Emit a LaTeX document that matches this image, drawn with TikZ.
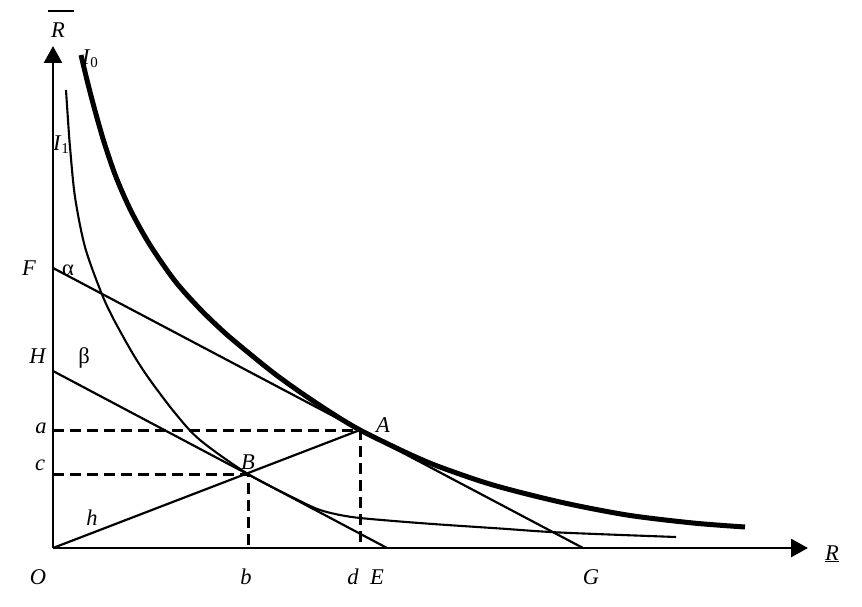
\documentclass[tikz,border=0pt]{standalone}
\usepackage{fontspec}
\setmainfont{Liberation Serif}
\usetikzlibrary{arrows.meta}
\begin{document}
\begin{tikzpicture}[x=1pt,y=-1pt,
  every node/.style={inner sep=0pt,outer sep=0pt},
  txt/.style={font=\fontsize{22.5}{26}\selectfont,anchor=base},
  axisline/.style={line width=2.8pt,-{Triangle[length=17pt,width=18pt]}},
  thinline/.style={line width=2.2pt},
  dashline/.style={line width=3pt,dash pattern=on 11pt off 6pt},
  thickcurve/.style={line width=5pt},
  thincurve/.style={line width=2.1pt}]
\useasboundingbox (0,0) rectangle (862,607);
% key points
\coordinate (O) at (53,548);
\coordinate (Ytip) at (53,46);
\coordinate (Xtip) at (808,548);
\coordinate (F) at (53,268);
\coordinate (G) at (583,548);
\coordinate (H) at (53,371);
\coordinate (E) at (387,548);
\coordinate (A) at (360,430);
\coordinate (B) at (248,474);
\coordinate (a) at (53,430);
\coordinate (c) at (53,474);
\coordinate (dfoot) at (360,548);
\coordinate (bfoot) at (248,548);
% axes
\draw[axisline] (O) -- (Ytip);
\draw[axisline] (O) -- (Xtip);
% straight lines
\draw[thinline] (F) -- (G);
\draw[thinline] (H) -- (E);
\draw[thinline] (O) -- (A);
% dashed
\draw[dashline] (a) -- (A) -- (dfoot);
\draw[dashline] (c) -- (B) -- (bfoot);
% indifference curves
\draw[thickcurve] plot[smooth,tension=0.5] coordinates {(81,55) (87,80) (94,107) (104,142) (116,177) (131,211) (150,245) (175,281) (200,309) (225,333) (250,354) (275,374) (300,392) (330,412) (360,430) (407,453) (440,467) (493,485) (560,502) (627,515) (693,523) (745,527)};
\draw[thincurve] plot[smooth,tension=0.5] coordinates {(66,90) (68,120) (70,147) (75,197) (85,247) (101,292) (113,318) (133,354) (150,380) (175,413) (200,440) (248,474) (300,501) (320,510) (340,515) (360,518) (400,521.5) (440,524.5) (500,528.5) (560,532.5) (676,537)};
% labels
\node[txt] (lRbar) at (58,38) {\textit{R}};
\draw[line width=1.6pt] (48,11) -- (74,11);
\node[txt] (lR) at (832,560) {\underline{\textit{R}}};
\node[txt,anchor=base west] (lI0) at (82,65) {\textit{I}\raisebox{-3pt}{\fontsize{15}{15}\selectfont 0}};
\node[txt,anchor=base west] (lI1) at (53,150) {\textit{I}\raisebox{-3pt}{\fontsize{15}{15}\selectfont 1}};
\node[txt] (lF) at (29,275) {\textit{F}};
\node[txt] (lalpha) at (68,275) {α};
\node[txt] (lH) at (38,363) {\textit{H}};
\node[txt] (lbeta) at (84,363) {β};
\node[txt] (la) at (41,433) {\textit{a}};
\node[txt] (lc) at (40,470) {\textit{c}};
\node[txt] (lh) at (92,525) {\textit{h}};
\node[txt] (lA) at (383,432) {\textit{A}};
\node[txt] (lB) at (248,469) {\textit{B}};
\node[txt] (lO) at (38,584) {\textit{O}};
\node[txt] (lb) at (246,584) {\textit{b}};
\node[txt] (ld) at (353,584) {\textit{d}};
\node[txt] (lE) at (377,584) {\textit{E}};
\node[txt] (lG) at (591,584) {\textit{G}};
\end{tikzpicture}
\end{document}
